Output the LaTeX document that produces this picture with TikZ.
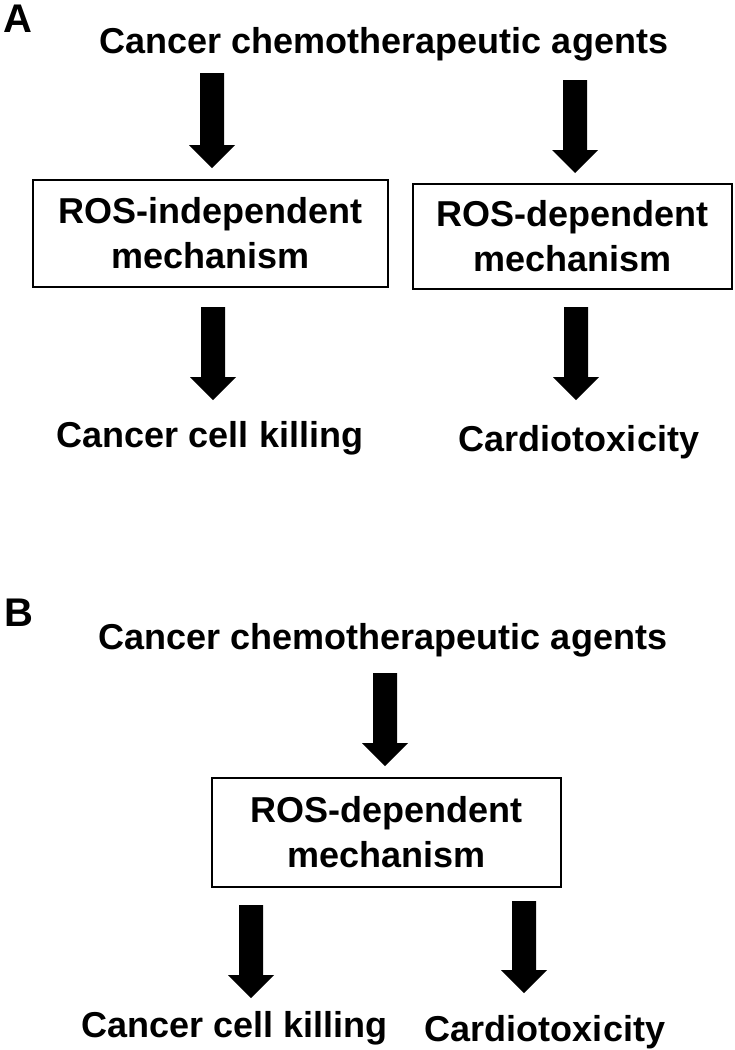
\documentclass[tikz,border=0pt]{standalone}
\usepackage{fontspec}
\setmainfont{Liberation Sans}
\usetikzlibrary{calc}
\tikzset{
  lbl/.style={anchor=base, inner sep=0pt, font=\fontsize{36}{45}\selectfont\bfseries},
  panel/.style={anchor=base west, inner sep=0pt, font=\fontsize{40}{45}\selectfont\bfseries},
  mechbox/.style={draw=black, line width=2pt, align=center, inner sep=0pt,
    font=\fontsize{36}{45}\selectfont\bfseries},
  arrowfill/.style={fill=black}
}
\newcommand{\fatarr}[2]{%
  \fill[arrowfill] let \p1=(#1), \p2=(#2) in
    (\x1-12pt,\y1) -- (\x1+12pt,\y1) -- (\x1+12pt,\y2+23pt) -- (\x1+23pt,\y2+23pt)
    -- (\x1,\y2) -- (\x1-23pt,\y2+23pt) -- (\x1-12pt,\y2+23pt) -- cycle;}
\begin{document}
\begin{tikzpicture}[x=1pt,y=-1pt]
\useasboundingbox (0,0) rectangle (734,1050);
% ---------- Panel A ----------
\node[panel] (labA) at (3,32.5) {A};
\node[lbl] (titleA) at (384,53) {Cancer chemotherapeutic agents};
\node[mechbox, minimum width=355pt, minimum height=107pt] (indepA) at (210.5,233.5)
  {ROS-independent\\mechanism};
\node[mechbox, minimum width=319pt, minimum height=105pt] (depA) at (572.5,236.5)
  {ROS-dependent\\mechanism};
\node[lbl] (killA) at (210,447) {Cancer cell killing};
\node[lbl] (cardA) at (579,451) {Cardiotoxicity};
\coordinate (a1s) at (212,73);  \coordinate (a1e) at (212,168);
\coordinate (a2s) at (575,80);  \coordinate (a2e) at (575,173);
\coordinate (a3s) at (213,307); \coordinate (a3e) at (213,400);
\coordinate (a4s) at (576,307); \coordinate (a4e) at (576,400);
\fatarr{a1s}{a1e}
\fatarr{a2s}{a2e}
\fatarr{a3s}{a3e}
\fatarr{a4s}{a4e}
% ---------- Panel B ----------
\node[panel] (labB) at (4,626) {B};
\node[lbl] (titleB) at (383,649) {Cancer chemotherapeutic agents};
\node[mechbox, minimum width=349pt, minimum height=109pt] (depB) at (386.5,832.5)
  {ROS-dependent\\mechanism};
\node[lbl] (killB) at (234.5,1037) {Cancer cell killing};
\node[lbl] (cardB) at (545,1041) {Cardiotoxicity};
\coordinate (b1s) at (385,673); \coordinate (b1e) at (385,766);
\coordinate (b2s) at (251,905); \coordinate (b2e) at (251,998);
\coordinate (b3s) at (524,901); \coordinate (b3e) at (524,993);
\fatarr{b1s}{b1e}
\fatarr{b2s}{b2e}
\fatarr{b3s}{b3e}
\end{tikzpicture}
\end{document}
